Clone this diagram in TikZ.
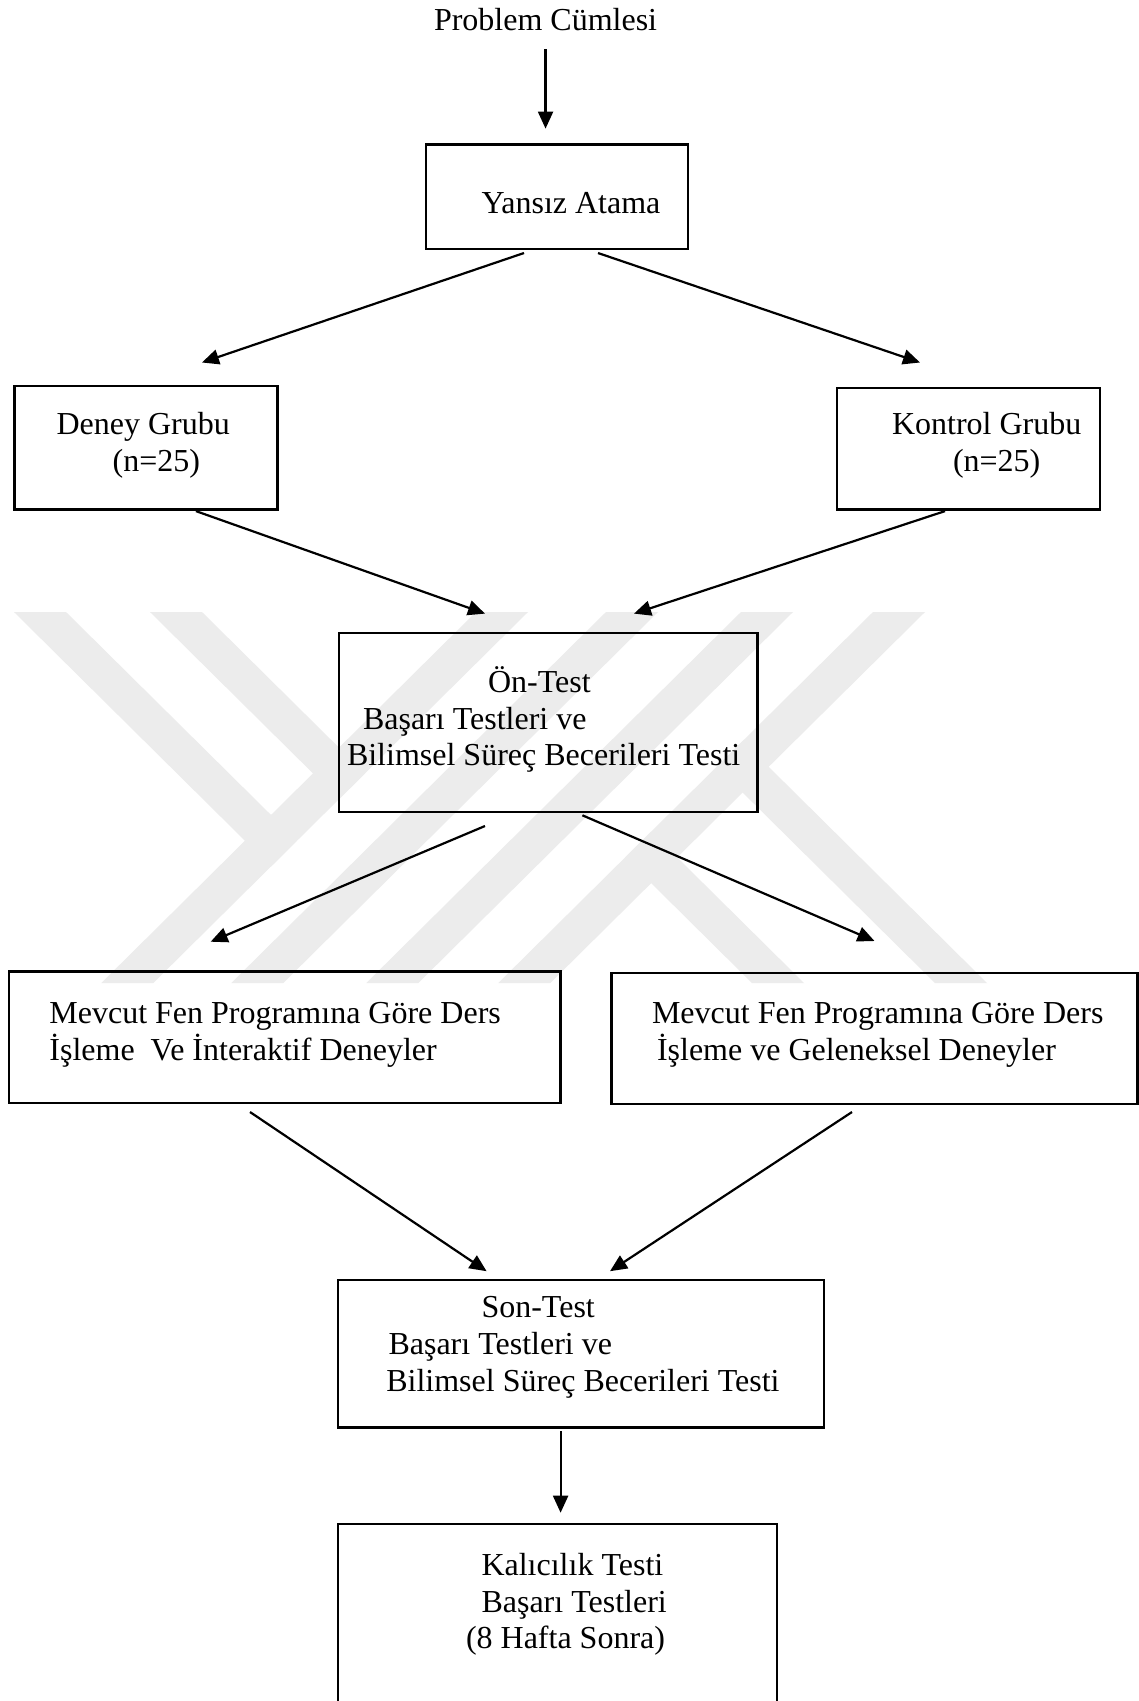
\documentclass[tikz,border=0pt]{standalone}
\usepackage{fontspec}
\setmainfont{Liberation Serif}
\usetikzlibrary{arrows.meta,calc}
\definecolor{wm}{RGB}{236,236,236}
\begin{document}
\begin{tikzpicture}[x=1pt,y=-1pt,
  box/.style={draw, line width=2.3pt, inner sep=0pt, outer sep=0pt},
  txt/.style={anchor=base west, inner sep=0pt, outer sep=0pt, font=\fontsize{32pt}{36.5pt}\selectfont},
  arr/.style={line width=2.2pt, -{Triangle[length=17pt,width=15pt]}},
  wmark/.style={fill=wm, draw=none}]
\useasboundingbox (0,0) rectangle (1139,1701);
\clip (0,0) rectangle (1139,1701);
\fill[white] (0,0) rectangle (1139,1701);

% watermark
\fill[wmark] (476,612) -- (528,612) -- (153.3,983) -- (101.3,983) -- cycle;
\fill[wmark] (606,612) -- (658,612) -- (283.3,983) -- (231.3,983) -- cycle;
\fill[wmark] (741,612) -- (793,612) -- (418.3,983) -- (366.3,983) -- cycle;
\fill[wmark] (873,612) -- (925,612) -- (550.3,983) -- (498.3,983) -- cycle;
\fill[wmark] (14,612) -- (66,612) -- (297,840.7) -- (271,866.5) -- cycle;
\fill[wmark] (150,612) -- (202,612) -- (365,773.4) -- (339,799.1) -- cycle;
\fill[wmark] (625.2,857.4) -- (651.2,831.7) -- (804,983) -- (752,983) -- cycle;
\fill[wmark] (716.7,766.8) -- (742.7,741.1) -- (987,983) -- (935,983) -- cycle;

% boxes
\node[box, minimum width=262pt, minimum height=104.7pt] (yansiz) at (557,196.95) {};
\node[box, minimum width=262.9pt, minimum height=123.9pt] (deney) at (145.95,447.65) {};
\node[box, minimum width=263pt, minimum height=121.6pt] (kontrol) at (968.5,448.8) {};
\node[box, minimum width=418.5pt, minimum height=178.6pt] (ontest) at (548.25,722.5) {};
\node[box, minimum width=551.9pt, minimum height=131.5pt] (mevL) at (284.65,1037.15) {};
\node[box, minimum width=526pt, minimum height=131.3pt] (mevR) at (874.5,1038.65) {};
\node[box, minimum width=486.6pt, minimum height=147.5pt] (sontest) at (581,1353.75) {};
\node[box, minimum width=439.3pt, minimum height=196.2pt] (kalici) at (557.35,1621.9) {};

% texts
\node[txt] (problem) at (434,30) {Problem Cümlesi};
\node[txt] (yansizt) at (481.5,213.6) {Yansız Atama};
\node[txt] (deneyta) at (56.6,434.5) {Deney Grubu};
\node[txt] (deneytb) at (112.6,471.5) {(n=25)};
\node[txt] (kontrolta) at (892,434.5) {Kontrol Grubu};
\node[txt] (kontroltb) at (953,471.5) {(n=25)};
\node[txt] (ontesta) at (488,692.7) {Ön-Test};
\node[txt] (ontestb) at (363,729.3) {Başarı Testleri ve};
\node[txt] (ontestc) at (347,765.3) {Bilimsel Süreç Becerileri Testi};
\node[txt] (mevLa) at (49.4,1023) {Mevcut Fen Programına Göre Ders};
\node[txt] (mevLb) at (49.4,1060) {İşleme\ \ Ve İnteraktif Deneyler};
\node[txt] (mevRa) at (652,1023) {Mevcut Fen Programına Göre Ders};
\node[txt] (mevRb) at (657,1060) {İşleme ve Geleneksel Deneyler};
\node[txt] (sontesta) at (481.5,1317.5) {Son-Test};
\node[txt] (sontestb) at (388.5,1354) {Başarı Testleri ve};
\node[txt] (sontestc) at (386.3,1391.2) {Bilimsel Süreç Becerileri Testi};
\node[txt] (kalicia) at (481.5,1575) {Kalıcılık Testi};
\node[txt] (kalicib) at (481.5,1612) {Başarı Testleri};
\node[txt] (kalicic) at (466,1648.5) {(8 Hafta Sonra)};

% arrows
\draw[arr] ($(problem.south)+(0,19)$) -- ($(problem.south |- yansiz.north)+(0,-16)$);
\draw[arr] ($(yansiz.south)+(-33,3.7)$) -- ($(deney.north)+(56,-23.2)$);
\draw[arr] ($(yansiz.south)+(41,3.7)$) -- ($(kontrol.north)+(-48.5,-25.5)$);
\draw[arr] ($(deney.south)+(50,1.5)$) -- ($(ontest.north)+(-63.25,-19.6)$);
\draw[arr] ($(kontrol.south)+(-23.5,1.5)$) -- ($(ontest.north)+(85.75,-19.6)$);
\draw[arr] ($(ontest.south)+(-63.25,14.2)$) -- ($(mevL.north)+(-74,-29.7)$);
\draw[arr] ($(ontest.south)+(34.15,3.5)$) -- ($(mevR.north)+(0,-32)$);
\draw[arr] ($(mevL.south)+(-34.65,9.1)$) -- ($(sontest.north)+(-94.4,-8.8)$);
\draw[arr] ($(mevR.south)+(-22.5,7.7)$) -- ($(sontest.north)+(29,-8.8)$);
\draw[arr] ($(sontest.south)+(-20.4,3.5)$) -- ($(kalici.north)+(3.25,-11.1)$);
\end{tikzpicture}
\end{document}
